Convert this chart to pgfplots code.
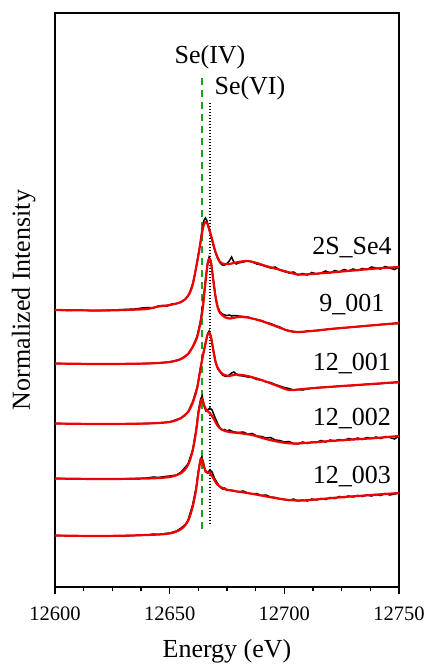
\documentclass[border=0pt]{standalone}
\usepackage{fontspec}
\setmainfont{Liberation Serif}
\usepackage{pgfplots}
\pgfplotsset{compat=1.18}
\definecolor{fitred}{RGB}{240,0,0}
\definecolor{refgreen}{RGB}{20,170,20}
\begin{document}
\begin{tikzpicture}
\begin{axis}[
  scale only axis,
  width=344bp, height=574bp,
  xmin=12600, xmax=12750,
  ymin=13, ymax=587, y dir=reverse,
  xtick={12600,12650,12700,12750},
  scaled x ticks=false,
  xticklabel style={/pgf/number format/fixed, /pgf/number format/precision=0, /pgf/number format/set thousands separator={}},
  ytick=\empty,
  xtick pos=bottom,
  ytick pos=left,
  tick align=outside,
  major tick length=7bp,
  axis line style={line width=1.2bp},
  every tick/.append style={line width=1.1bp, black},
  /pgf/number format/assume math mode=true,
  /pgf/number format/set thousands separator={},
  xticklabel style={font=\fontsize{20.5bp}{24bp}\selectfont, yshift=-9bp},
  xlabel={Energy (eV)},
  ylabel={Normalized Intensity},
  xlabel style={font=\fontsize{26bp}{30bp}\selectfont, yshift=-12bp},
  ylabel style={font=\fontsize{26bp}{30bp}\selectfont, yshift=9bp},
  clip=false,
]
% reference lines
\addplot[color=refgreen, line width=1.6bp, dash pattern=on 7bp off 5bp] coordinates {(12664.1,78) (12664.1,530)};
\addplot[color=black, line width=1.4bp, dash pattern=on 1.4bp off 1.6bp] coordinates {(12667.6,103) (12667.6,526)};

% ---- 2S_Se4 ----
\addplot[black, line width=1.5bp] coordinates {
(12600,310) (12605,310.5) (12610,310) (12615,310.5) (12620,310.5) (12625,310) (12630,309.5) (12635,309) (12638,308) (12641,307.5) (12643,308) (12645,306) (12647,305.5) (12649,306) (12651,304) (12653,303.5) (12655,302) (12657,299) (12658.5,294) (12660,284) (12661,274) (12662,261) (12663,248) (12664,232) (12665,220) (12665.6,218) (12666.3,221) (12667,228) (12668,236) (12669,245) (12670,253) (12671,259) (12672,263) (12673,265) (12674,265) (12675,263.5) (12676,261) (12677,257) (12678,262) (12679,264) (12680,263) (12682,262) (12684,261) (12686,262) (12688,264) (12690,265) (12692,266.5) (12694,268) (12696,267) (12698,270) (12700,271.5) (12702,273) (12704,272) (12706,275) (12708,273.5) (12710,275) (12712,272.5) (12714,274) (12716,273) (12718,271) (12720,273) (12722,270.5) (12724,272) (12726,269.5) (12728,271) (12730,269) (12732,270.5) (12734,268.5) (12736,269.5) (12738,267) (12740,268) (12742,269) (12744,266.5) (12746,268) (12748,269.5) (12750,267)};
\addplot[fitred, line width=2.2bp, smooth, tension=0.5] coordinates {
(12600,310) (12620,310.5) (12630,310) (12640,309) (12645,306.5) (12650,305) (12655,302) (12658,296) (12660,285) (12662,262) (12663.5,242) (12664.5,228) (12665.5,222) (12666.5,224) (12668,235) (12670,252) (12672,262) (12674,264) (12676,264) (12678,263) (12680,262) (12684,261) (12688,263) (12692,266) (12700,271) (12706,274.5) (12712,274) (12720,272.5) (12730,270.5) (12740,268.5) (12750,267)};

% ---- 9_001 ----
\addplot[black, line width=1.5bp] coordinates {
(12600,363.5) (12610,364) (12620,364) (12630,364) (12640,363.5) (12645,363) (12650,362) (12655,359) (12658,354) (12660,347) (12662,336) (12663.5,320) (12664.5,304) (12665.5,282) (12666.5,263) (12667.2,257) (12668,261) (12669,279) (12670,296) (12671,307) (12672,312) (12673,314) (12674,315) (12675,315.5) (12676,315) (12677,316) (12678,315.5) (12680,316) (12682,316.5) (12684,317) (12686,318.5) (12688,319.5) (12690,320.5) (12692,322.5) (12694,323.5) (12696,325.5) (12698,327) (12700,329.5) (12702,330.5) (12704,331.5) (12706,332) (12708,332) (12710,331) (12715,330.5) (12720,329) (12725,328) (12730,327) (12735,326) (12740,325) (12745,324) (12750,323.5)};
\addplot[fitred, line width=2.2bp, smooth, tension=0.5] coordinates {
(12600,363.5) (12620,364) (12640,363.5) (12650,362) (12655,359) (12658,354) (12660,347) (12662,337) (12663.5,322) (12664.5,307) (12665.5,285) (12666.5,265) (12667.2,259) (12668,262) (12669,280) (12670,297) (12671,308) (12672,313) (12674,317) (12676,318.5) (12680,317) (12684,317.5) (12690,321) (12696,326) (12702,331) (12706,332) (12712,331) (12720,329) (12730,327) (12740,325) (12750,323)};

% ---- 12_001 ----
\addplot[black, line width=1.5bp] coordinates {
(12600,423.5) (12610,424) (12620,424) (12630,424) (12640,423.5) (12645,423) (12650,422) (12655,418) (12658,412) (12660,402) (12662,387) (12663.5,367) (12664.5,355) (12665.5,344) (12666.5,334) (12667.2,331) (12668,336) (12669,349) (12670,361) (12671,369) (12672,372) (12673,375) (12674,376) (12675,376.5) (12676,375) (12677,373) (12678,372) (12679,374) (12680,375.5) (12682,376) (12684,377) (12686,377.5) (12688,379.5) (12690,380) (12692,382) (12694,382.5) (12696,384.5) (12698,386) (12700,387.5) (12702,388.5) (12704,390) (12706,389.5) (12708,390) (12712,388) (12716,387.5) (12720,387) (12725,386) (12730,385.5) (12735,384.5) (12740,384) (12745,383) (12750,382.5)};
\addplot[fitred, line width=2.2bp, smooth, tension=0.5] coordinates {
(12600,423.5) (12620,424) (12640,423.5) (12650,422) (12655,418) (12658,412) (12660,403) (12662,388) (12663.5,368) (12664.5,356) (12665.5,345) (12666.5,335) (12667.2,333) (12668,337) (12669,350) (12670,362) (12671,368) (12673,374) (12676,376) (12679,374.5) (12684,376) (12690,380) (12696,385) (12702,390) (12708,389) (12716,387.5) (12725,386) (12735,384.5) (12750,382)};

% ---- 12_002 ----
\addplot[black, line width=1.5bp] coordinates {
(12600,478.5) (12610,479) (12620,479) (12630,479) (12635,478.5) (12640,478) (12643,477) (12645,477.5) (12648,476.5) (12650,476) (12653,475) (12655,472) (12658,464) (12660,450) (12661.5,430) (12662.5,411) (12663.5,399) (12664.2,396) (12665,406) (12665.8,411) (12666.5,410) (12667.5,408) (12668.5,410) (12669.5,416) (12671,424) (12672,428) (12673,430) (12674,429.5) (12675,431) (12676,430) (12678,432) (12680,432.5) (12682,432) (12684,434) (12686,433.5) (12688,436) (12690,436.5) (12692,438) (12694,437.5) (12696,440) (12698,440.5) (12700,442) (12702,441.5) (12704,443.5) (12706,444) (12708,442) (12710,443.5) (12712,442) (12714,442.5) (12716,440.5) (12718,442) (12720,440) (12722,441) (12724,439.5) (12726,440.5) (12728,438.5) (12730,439.5) (12732,438) (12734,439.5) (12736,437.5) (12738,438.5) (12740,437) (12742,438.5) (12744,436.5) (12746,437.5) (12748,439) (12750,436)};
\addplot[fitred, line width=2.2bp, smooth, tension=0.5] coordinates {
(12600,478.5) (12620,479) (12640,478.5) (12650,477) (12655,473) (12658,465) (12660,451) (12661.5,432) (12662.5,414) (12663.5,402) (12664.2,399) (12665,405) (12666,410) (12667.5,413) (12669,418) (12671,426) (12673,430) (12676,432) (12680,433) (12686,435) (12692,439) (12698,442) (12704,443.5) (12712,442.5) (12720,441) (12730,439.5) (12740,438) (12750,436)};

% ---- 12_003 ----
\addplot[black, line width=1.5bp] coordinates {
(12600,535.5) (12610,536) (12620,536) (12630,536) (12635,535.5) (12640,535) (12643,534) (12645,534.5) (12648,533.5) (12650,533) (12653,531) (12655,528) (12657,524) (12658,520) (12660,505) (12661.5,488) (12662.5,471) (12663.4,459) (12664,457) (12664.8,463) (12665.6,472) (12666.5,473) (12667.5,470) (12668.5,472) (12669.5,478) (12671,484) (12672,487) (12673,489) (12674,488) (12675,490.5) (12676,490) (12678,490.5) (12680,492) (12682,491) (12684,493) (12686,494) (12688,493.5) (12690,495.5) (12692,495) (12694,497) (12696,497.5) (12698,499) (12700,499.5) (12702,500.5) (12704,499) (12706,501) (12708,500) (12710,501) (12712,499) (12714,500) (12716,498.5) (12718,499.5) (12720,497.5) (12722,498.5) (12724,496.5) (12726,497.5) (12728,496) (12730,497) (12732,495.5) (12734,496.5) (12736,495) (12738,496) (12740,494.5) (12742,495.5) (12744,493.5) (12746,495) (12748,494) (12750,493)};
\addplot[fitred, line width=2.2bp, smooth, tension=0.5] coordinates {
(12600,535.5) (12620,536) (12640,535) (12650,533.5) (12655,529) (12658,521) (12660,507) (12661.5,490) (12662.5,473) (12663.4,461) (12664,459) (12665,467) (12666,472) (12667.5,473) (12669,478) (12671,485) (12674,489) (12678,491) (12684,493) (12690,495.5) (12696,498) (12702,500) (12708,500.5) (12716,499) (12726,497) (12738,495) (12750,493)};

% labels
\node[font=\fontsize{26bp}{30bp}\selectfont] at (axis cs:12667.6,57) {Se(IV)};
\node[font=\fontsize{26bp}{30bp}\selectfont] at (axis cs:12685,88) {Se(VI)};
\node[font=\fontsize{26bp}{30bp}\selectfont] at (axis cs:12729.5,248) {2S\_Se4};
\node[font=\fontsize{26bp}{30bp}\selectfont] at (axis cs:12729.5,305) {9\_001};
\node[font=\fontsize{26bp}{30bp}\selectfont] at (axis cs:12729.5,364) {12\_001};
\node[font=\fontsize{26bp}{30bp}\selectfont] at (axis cs:12729.5,419) {12\_002};
\node[font=\fontsize{26bp}{30bp}\selectfont] at (axis cs:12729.5,477) {12\_003};
\end{axis}
% overlay axis carrying the short (minor) ticks
\begin{axis}[
  scale only axis,
  width=344bp, height=574bp,
  xmin=12600, xmax=12750, ymin=0, ymax=1,
  xtick={12612.5,12625,12637.5,12662.5,12675,12687.5,12712.5,12725,12737.5},
  xticklabels={},
  ytick=\empty,
  xtick pos=bottom,
  tick align=outside,
  major tick length=4.5bp,
  every tick/.append style={line width=1.1bp, black},
  axis line style={draw=none},
  scaled x ticks=false,
]
\end{axis}
\path ([xshift=-55bp,yshift=-85bp]current axis.south west) rectangle ([xshift=33bp,yshift=13bp]current axis.north east);
\end{tikzpicture}
\end{document}
